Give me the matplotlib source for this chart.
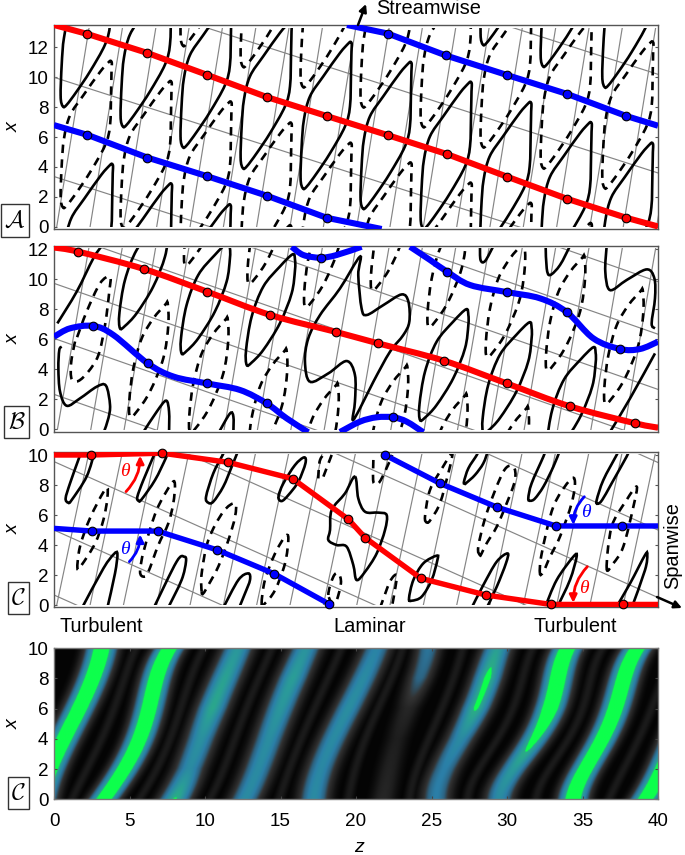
import numpy as np
import matplotlib
matplotlib.use('Agg')
import matplotlib.pyplot as plt
from matplotlib.path import Path
from matplotlib.patches import PathPatch, Rectangle, FancyArrowPatch
from matplotlib.colors import LinearSegmentedColormap

plt.rcParams['font.family'] = ['Liberation Sans', 'DejaVu Sans']
plt.rcParams['mathtext.fontset'] = 'cm'

W, H = 685, 855
TICK_COLOR = '#555555'
GRID_COLOR = '#858585'

# --- panel A ---
a_red_z = [0, 2.21, 6.18, 10.15, 14.09, 18.06, 22.1, 26.03, 29.98, 33.95, 37.9, 40]
a_red_x = [13.5, 12.9, 11.63, 10.16, 8.68, 7.41, 6.13, 4.86, 3.36, 1.88, 0.6, 0.02]
a_blue1_z = [0, 2.21, 6.18, 10.15, 14.09, 18.06, 21.7]
a_blue1_x = [6.8, 6.15, 4.63, 3.38, 2.08, 0.6, -0.15]
a_blue2_z = [19.4, 22.1, 25.96, 29.98, 34.0, 37.9, 40]
a_blue2_x = [13.5, 12.93, 11.46, 10.16, 8.88, 7.41, 6.76]
a_red_marks = list(range(1, 11))
a_blue1_marks = [1, 2, 3, 4, 5]
a_blue2_marks = [1, 2, 3, 4, 5]
a_span_x0 = [3.36, 10.0, 16.6, 23.2, 29.8, 36.4]
a_span_slope = -0.325
a_stream_z0 = [0.18, 2.39, 4.6, 6.8, 9.01, 11.22, 13.42, 15.63, 17.84, 20.05, 22.25, 24.46,
               26.67, 28.87, 31.08, 33.29, 35.49, 37.7, 39.91]
a_stream_slope = 0.161
# lobe outline relative to its lowest point
a_lobe_dz = [-0.07, 0, 0.15, 0.55, 1.43, 2.54, 3.09, 3.24, 3.32, 3.3, 3.27, 3.2, 2.87, 1.88, 0.99, 0.33, 0.08]
a_lobe_dx = [0.67, 2.8, 4.59, 6.15, 7.49, 9.06, 9.69, 9.8, 9.65, 9.17, 7.72, 5.48, 4.14, 2.35, 1.0, 0.11, 0]
a_solid_z = [0.51, 4.48, 8.45, 12.43, 16.4, 20.37, 24.35, 28.3, 32.3, 36.36,
             28.32, 32.3, 36.38, 0.59, 4.5, 8.4, 12.4]
a_solid_x = [8.05, 6.71, 5.33, 3.92, 2.57, 1.23, -0.1, -1.45, -2.8, -4.18,
             12.19, 10.74, 9.35, -5.59, -6.9, -8.3, -9.7]
a_dash_z = [8.45, 12.43, 16.4, 20.37, 24.35, 28.32, 32.3, 36.38, 40.3,
            0.51, 4.48, 8.45, 12.43, 16.4, 20.37, 24.35, 28.32, 32.3]
a_dash_x = [12.13, 10.72, 9.37, 8.03, 6.7, 5.35, 3.94, 2.6, 1.2,
            1.3, -0.05, -1.42, -2.83, -4.18, -5.5, -6.85, -8.2, -9.55]

# --- panel B ---
b_red_z = [0, 1.61, 5.94, 10.13, 14.33, 18.68, 21.46, 25.8, 29.98, 34.17, 38.5, 40]
b_red_x = [12.1, 11.82, 10.67, 9.16, 7.6, 6.47, 5.71, 4.56, 3.04, 1.51, 0.38, 0.09]
b_blue1_z = [0, 1.06, 2.6, 3.93, 6.2, 7.93, 10.13, 12.32, 14.08, 15.41, 16.84]
b_blue1_x = [6.15, 6.71, 6.87, 6.27, 4.38, 3.49, 3.04, 2.6, 1.71, 0.71, -0.22]
b_blue2_z = [18.94, 20.26, 21.37, 22.47, 23.36, 24.46]
b_blue2_x = [-0.2, 0.49, 0.78, 0.78, 0.49, -0.22]
b_blue3_z = [15.74, 16.51, 17.66, 18.72, 20.37]
b_blue3_x = [12.15, 11.6, 11.42, 11.6, 12.15]
b_blue4_z = [23.58, 24.9, 26.03, 27.55, 29.98, 32.19, 33.95, 35.72, 37.5, 38.8, 40]
b_blue4_x = [12.15, 11.27, 10.49, 9.6, 9.13, 8.71, 7.8, 6.04, 5.33, 5.33, 5.82]
b_red_marks = [1, 2, 3, 4, 5, 6, 7, 8, 9, 10]
b_blue1_marks = [2, 4, 6, 8]
b_blue2_marks = [3]
b_blue3_marks = [2]
b_blue4_marks = [2, 4, 6, 8]
b_span_x0 = [2.31, 6.04, 9.71, 13.2, 16.72, 20.4, 23.9]
b_span_slope = -0.352
b_stream_z0 = [0.22, 2.43, 4.64, 6.84, 9.05, 11.26, 13.47, 15.68, 17.89, 20.09, 22.3, 24.51,
               26.72, 28.92, 31.13, 33.34, 35.55, 37.76, 39.96]
b_stream_slope = 0.172
b_lobe_dz = [-0.04, 0.33, 1.1, 2.2, 3.05, 3.2, 3.2, 2.98, 2.2, 1.1, 0.33, 0]
b_lobe_dx = [1.0, 3.22, 5.22, 6.56, 7.38, 7.0, 6.33, 4.78, 2.78, 1.0, 0.16, 0]
b_solid_z = [4.37, 8.45, 12.76, 24.24, 28.43, 32.67]
b_solid_x = [6.71, 5.04, 4.27, 0.6, -0.27, -1.93]
b_dlobe_dz = [-0.04, 0.22, 0.77, 1.55, 2.32, 2.5, 2.54, 2.21, 1.32, 0.44, 0]
b_dlobe_dx = [1.1, 3.2, 5.2, 6.55, 7.45, 7.55, 6.1, 3.9, 1.67, 0.33, 0]
b_dash_z = [5.03, 9.0, 12.9, 16.3, 20.9, 24.83, 28.9, 36.49, 32.63, 28.65, 24.79, 21.04, 16.62, 12.87, 8.67]
b_dash_x = [0.82, -0.2, -2.3, -4.6, -3.4, -5.3, -6.15, 1.7, 3.93, 4.82, 6.82, 9.26, 8.15, 9.71, 10.93]
b_open_curves = [
    ([0.51, 0.35, 0.29, 0.4, 0.84, 1.72, 2.83, 3.44, 3.71, 3.6, 3.31],
     [5.49, 5.26, 4.04, 2.49, 1.55, 2.04, 2.82, 2.89, 1.6, 0.71, -0.18]),
    ([0.22, 1.5, 2.6, 3.16], [7.04, 9.15, 11.37, 12.2]),
    ([5.92, 6.8, 7.42, 7.62, 7.62], [-0.2, 1.15, 1.89, 1.15, -0.2]),
    ([10.93, 11.66, 11.88, 11.88], [-0.2, 1.04, 0.82, -0.2]),
    ([28.21, 28.25, 28.55, 29.1], [12.2, 11.26, 11.2, 12.2]),
    ([32.56, 32.63, 32.85, 33.51, 34.17], [12.2, 10.71, 10.26, 10.93, 12.2]),
    ([36.6, 36.51, 36.82, 37.92, 39.25, 39.76, 39.8, 39.58, 39.8],
     [12.2, 10.49, 9.26, 9.93, 10.64, 10.04, 8.71, 7.04, 6.71]),
    ([36.82, 38.15, 39.8], [-0.2, 2.04, 5.04]),
]
b_loop_z = [16.95, 16.62, 16.84, 17.62, 18.94, 20.26, 20.15, 20.37, 20.71, 21.81, 23.02, 23.47, 23.53,
            23.13, 22.25, 21.15, 20.26, 19.78, 19.93, 19.93, 19.38, 18.17]
b_loop_x = [3.15, 4.49, 6.04, 7.6, 9.37, 11.49, 10.26, 8.04, 7.6, 8.26, 8.97, 8.49, 7.15,
            6.26, 5.15, 3.15, 1.37, 0.6, 1.82, 3.6, 4.53, 3.71]
b_dloop_z = [1.39, 1.13, 1.17, 1.61, 2.27, 2.94, 3.38, 3.66, 3.71, 3.05, 2.16, 1.5]
b_dloop_x = [5.82, 4.37, 3.33, 3.2, 3.82, 4.93, 6.93, 9.15, 10.15, 9.71, 7.82, 6.04]

# --- panel C ---
c_red_z = [0, 2.43, 7.17, 11.55, 15.81, 19.5, 20.6, 24.3, 28.59, 32.91, 37.66, 40]
c_red_x = [10, 10, 10.12, 9.51, 8.42, 5.71, 4.49, 1.78, 0.67, 0.04, 0.04, 0.04]
c_blue1_z = [0, 2.54, 6.87, 10.82, 14.57, 18.21]
c_blue1_x = [5.11, 4.93, 4.93, 3.67, 2.09, 0.07]
c_blue2_z = [21.92, 25.56, 29.32, 33.24, 37.59, 40]
c_blue2_x = [10, 8.11, 6.53, 5.27, 5.27, 5.27]
c_span_x0 = [0.67, 5.0, 9.56, 14.05, 18.5, 23.0, 27.5]
c_span_slope = -0.45
c_stream_z0 = [0.18, 2.39, 4.6, 6.8, 9.01, 11.22, 13.42, 15.63, 17.84, 20.05, 22.25, 24.46,
               26.67, 28.87, 31.08, 33.29, 35.49, 37.7]
c_stream_slope = 0.21
c_solid_open = [
    ([1.83, 1.61, 1.06, 0.77, 0.95, 1.17, 2.16, 2.72], [10.3, 9.67, 8.11, 7.11, 6.82, 7.0, 8.56, 10.3]),
    ([6.75, 6.58, 5.92, 5.52, 5.6, 5.8, 6.69, 7.4, 7.6], [10.3, 9.89, 8.33, 7.22, 6.95, 7.04, 8.33, 9.78, 10.3]),
    ([11.3, 11.17, 10.55, 10.07, 10.22, 10.55, 11.21, 11.77, 12.2], [10.3, 10, 8.78, 7.22, 6.82, 6.89, 7.89, 9.22, 10.3]),
    ([28.1, 28.0, 27.44, 27.15, 27.22, 27.33, 27.88, 28.43, 28.75], [10.3, 10, 9.11, 8.22, 8.08, 8.16, 8.67, 9.44, 10.3]),
    ([32.55, 32.41, 31.63, 31.41, 31.55, 31.85, 32.41, 33.07, 33.5], [10.3, 9.89, 8.11, 7.11, 6.95, 7.1, 7.89, 9.22, 10.3]),
    ([37.4, 37.26, 36.38, 35.94, 36.0, 36.3, 36.93, 37.92, 38.1], [10.3, 10, 8.33, 7.0, 6.75, 7.0, 8.11, 9.89, 10.3]),
    ([1.85, 3.27, 3.97, 4.2, 4.04, 3.53], [-0.2, 2.44, 3.4, 3.4, 2.11, -0.2]),
    ([6.6, 8.12, 8.63, 8.74, 8.45, 7.55], [-0.2, 2.89, 3.22, 2.89, 1.67, -0.2]),
    ([11.2, 12.21, 12.87, 12.98, 12.65, 12.25], [-0.2, 1.67, 2.11, 1.67, 0.78, -0.2]),
    ([27.65, 28.43, 29.32, 30.04, 29.93, 29.32, 28.65], [-0.2, 1.33, 2.89, 3.44, 2.78, 1.22, -0.2]),
    ([32.5, 33.29, 34.39, 34.61, 34.17, 33.3], [-0.2, 1.67, 3.22, 3.22, 1.67, -0.2]),
    ([37.2, 38.15, 39.14, 39.29, 39.14, 38.25], [-0.2, 1.44, 3.33, 3.33, 2.33, -0.2]),
]
c_solid_closed = [
    ([14.86, 15.19, 15.96, 16.56, 16.65, 16.18, 15.52, 15.08], [7.22, 8.11, 9.33, 9.84, 9.44, 8.22, 7.33, 6.93]),
    ([19.93, 19.27, 18.39, 18.28, 18.17, 18.72, 19.38, 19.82, 20.04, 20.6, 21.37, 21.92, 22.03, 21.48, 20.6, 20.15],
     [8.56, 7.44, 6.33, 5, 4.33, 4.0, 3.89, 2.67, 1.67, 2.22, 3.44, 5, 6, 6.16, 6.22, 7.11]),
    ([23.51, 23.8, 24.46, 25.34, 25.39, 25.01, 24.35, 23.69], [0.44, 1.67, 2.78, 3.29, 3, 1.67, 0.56, 0.29]),
]
c_dash_closed = [
    ([1.55, 1.72, 2.38, 3.44, 3.53, 3.27, 2.72, 1.83], [2.44, 3.89, 5.78, 7.78, 7.11, 5.67, 4.11, 2.67]),
    ([5.96, 5.7, 5.96, 6.8, 7.79, 8.01, 7.9, 7.57, 6.91, 6.25], [1.89, 2.22, 3.67, 6.33, 8.11, 8, 6.78, 5.44, 4, 2.22]),
    ([9.78, 9.78, 10.22, 11.21, 11.99, 11.99, 11.55, 10.88, 10.22, 9.89], [0.89, 2.11, 4.33, 6.22, 6.78, 5.89, 4.33, 2.56, 1.33, 0.78]),
    ([13.75, 13.97, 14.64, 15.3, 15.52, 15.3, 14.64, 13.97], [0.11, 1.67, 3.44, 4.56, 4.44, 2.78, 1, 0.11]),
    ([18.17, 18.5, 18.83, 19.0, 18.61], [0.67, 1.89, 2.11, 1.44, 0.11]),
    ([24.7, 24.57, 24.9, 25.75, 26.33, 26.35, 26.11, 25.56, 24.95], [5.5, 5.9, 7.67, 9.2, 10.1, 9.8, 8.78, 6.78, 5.7]),
    ([28.21, 28.1, 28.65, 29.76, 30.42, 30.53, 29.98, 29.32, 28.65, 28.32], [3.33, 3.89, 6.11, 8.89, 9.22, 8.33, 6.78, 5.22, 4.11, 3.44]),
    ([32.18, 32.3, 33.07, 34.17, 34.5, 34.28, 33.51, 32.85, 32.41], [2.11, 3.44, 6.56, 8.33, 8.22, 6.78, 4.56, 3.22, 2.22]),
    ([36.6, 36.93, 37.92, 38.59, 38.37, 37.7, 37.04], [2.44, 5.22, 7, 7.89, 6.56, 3.89, 2.78]),
]
c_dash_open = [
    ([17.5, 17.62, 18.13], [8.44, 9.67, 10.3]),
    ([17.84, 18.5], [8.56, 10.3]),
    ([21.15, 21.15, 21.48, 21.92, 22.4], [9.67, 8.22, 8.11, 8.89, 10.0]),
    ([21.59, 22.25, 22.69, 22.58, 22.36], [-0.2, 1.56, 2, 1, -0.2]),
]

# --- heat map: stripe centres (z) read at these x rows, and strength along each stripe ---
heat_x = [0, 2, 4, 6, 8, 10]
heat_centres = [
    [-0.9, -0.25, 0.62, 1.72, 2.54, 3.16],
    [3.31, 4.64, 5.7, 6.25, 6.8, 7.68],
    [8.0, 9.0, 9.67, 10.55, 11.3, 12.2],
    [12.65, 13.5, 14.3, 14.96, 15.85, 16.7],
    [17.2, 17.7, 18.5, 19.55, 20.5, 21.4],
    [21.8, 22.25, 22.7, 23.5, 24.2, 24.8],
    [25.3, 25.9, 26.9, 28.0, 28.7, 29.4],
    [29.5, 30.4, 32.0, 32.74, 33.45, 34.05],
    [34.4, 35.2, 36.4, 37.15, 37.8, 38.7],
    [39.2, 40.3, 41.2, 42.0, 43.0, 44.0],
]
heat_peaks = [
    [1, 1, 1, 1, 1, 1],
    [1, 1, 1, 1, 1, 1],
    [0.71, 0.5, 0.54, 0.67, 0.64, 0.58],
    [0.5, 0.5, 0.52, 0.58, 0.62, 0.55],
    [0.5, 0.48, 0.5, 0.52, 0.5, 0.45],
    [0.14, 0.12, 0.1, 0.14, 0.32, 0.38],
    [0.42, 0.42, 0.5, 0.72, 0.74, 0.62],
    [0.5, 0.6, 0.78, 1, 1, 1],
    [1, 1, 1, 1, 1, 1],
    [1, 1, 1, 1, 1, 1],
]
heat_widths = [0.88, 0.85, 0.95, 0.95, 0.92, 0.8, 0.9, 0.88, 0.85, 0.85]

# --- helpers ---
def add_axes(left, top, right, bottom):
    return fig.add_axes([left / W, 1 - bottom / H, (right - left) / W, (bottom - top) / H])

def smooth_path(z, x, closed=False):
    pts = np.column_stack([z, x])
    n = len(pts)
    verts = [pts[0]]
    codes = [Path.MOVETO]
    for i in range(n if closed else n - 1):
        if closed:
            p0, p1, p2, p3 = pts[(i - 1) % n], pts[i], pts[(i + 1) % n], pts[(i + 2) % n]
        else:
            p0, p1, p2, p3 = pts[max(i - 1, 0)], pts[i], pts[i + 1], pts[min(i + 2, n - 1)]
        verts += [p1 + (p2 - p0) / 6, p2 - (p3 - p1) / 6, p2]
        codes += [Path.CURVE4] * 3
    return Path(verts, codes)

def draw_curve(ax, z, x, closed=False, dashed=False, clip=None):
    style = (0, (3.2, 2.4)) if dashed else '-'
    patch = PathPatch(smooth_path(z, x, closed), fill=False, ec='black', lw=1.9, ls=style,
                      capstyle='butt', zorder=3)
    ax.add_patch(patch)
    if clip is not None:
        patch.set_clip_path(clip)

def draw_grid(ax, span_x0, span_slope, stream_z0, stream_slope, x_lo, x_hi, clip):
    for x0 in span_x0:
        line, = ax.plot([0, 40], [x0, x0 + span_slope * 40], color=GRID_COLOR, lw=0.85, zorder=2)
        line.set_clip_path(clip)
    for z0 in stream_z0:
        line, = ax.plot([z0, z0 + stream_slope * (x_hi - x_lo)], [x_lo, x_hi], color=GRID_COLOR, lw=0.85, zorder=2)
        line.set_clip_path(clip)

def draw_front(ax, z, x, color, marks=None, smooth=False, lw=3.6):
    z = np.array(z)
    x = np.array(x)
    if smooth:
        ax.add_patch(PathPatch(smooth_path(z, x), fill=False, ec=color, lw=lw, capstyle='butt', zorder=4))
    else:
        ax.plot(z, x, color=color, lw=lw, solid_capstyle='butt', solid_joinstyle='round', zorder=4)
    idx = range(len(z)) if marks is None else marks
    m, = ax.plot(z[list(idx)], x[list(idx)], 'o', ms=6.2, mfc=color, mec='black', mew=0.8, zorder=5)
    m.set_clip_on(False)

def x_label(ax):
    ax.set_ylabel('x', style='italic', fontsize=14, va='center')
    ax.yaxis.set_label_coords((13 - 54) / 604, 0.5)

def style_axes(ax, yticks, ylim):
    ax.set_xlim(0, 40)
    ax.set_ylim(*ylim)
    ax.set_yticks(yticks)
    ax.set_xticks([])
    ax.tick_params(axis='y', direction='in', length=2.5, width=0.8, color=TICK_COLOR,
                   left=True, right=True, labelsize=13.6, pad=4)
    for s in ax.spines.values():
        s.set_color(TICK_COLOR)
        s.set_linewidth(1.0)
    x_label(ax)

def tag(left, top, right, bottom, text):
    fig.add_artist(Rectangle((left / W, 1 - bottom / H), (right - left) / W, (bottom - top) / H,
                             transform=fig.transFigure, fc='white', ec='#333333', lw=1.0, zorder=6))
    fig.text((left + right) / 2 / W, 1 - (top + bottom) / 2 / H, text, ha='center', va='center',
             fontsize=17, zorder=7)

def fig_arrow(p0, p1):
    fig.add_artist(FancyArrowPatch((p0[0] / W, 1 - p0[1] / H), (p1[0] / W, 1 - p1[1] / H),
                                   transform=fig.transFigure, arrowstyle='-|>', mutation_scale=11,
                                   lw=1.8, color='black', shrinkA=0, shrinkB=0, zorder=8))

def theta_arrow(ax, p0, p1, color, rad, tz, tx):
    ax.add_patch(FancyArrowPatch(p0, p1, arrowstyle='-|>', mutation_scale=11, lw=2.0, color=color,
                                 connectionstyle=f'arc3,rad={rad}', shrinkA=0, shrinkB=0, zorder=6))
    ax.text(tz, tx, '\u03b8', color=color, family='Liberation Serif', style='italic',
            fontsize=14, ha='center', va='center', zorder=6)

fig = plt.figure(figsize=(W / 100, H / 100), dpi=100)

# --- panel A ---
ax = add_axes(54, 25, 658, 229)
style_axes(ax, [0, 2, 4, 6, 8, 10, 12], (-0.15, 13.5))
clip = Rectangle((0, 0), 40, 13.27, transform=ax.transData)
draw_grid(ax, a_span_x0, a_span_slope, a_stream_z0, a_stream_slope, 0, 13.27, clip)
for z0, x0 in zip(a_solid_z, a_solid_x):
    draw_curve(ax, np.array(a_lobe_dz) + z0, np.array(a_lobe_dx) + x0, closed=True, clip=clip)
for z0, x0 in zip(a_dash_z, a_dash_x):
    draw_curve(ax, np.array(a_lobe_dz) + z0, np.array(a_lobe_dx) + x0, closed=True, dashed=True, clip=clip)
draw_front(ax, a_red_z, a_red_x, '#ff0000', a_red_marks, lw=4.4)
draw_front(ax, a_blue1_z, a_blue1_x, '#0000ff', a_blue1_marks, lw=4.4)
draw_front(ax, a_blue2_z, a_blue2_x, '#0000ff', a_blue2_marks, lw=4.4)

# --- panel B ---
ax = add_axes(54, 246, 658, 431.7)
style_axes(ax, [0, 2, 4, 6, 8, 10, 12], (-0.18, 12.2))
clip = Rectangle((0, -0.07), 40, 12.12, transform=ax.transData)
draw_grid(ax, b_span_x0, b_span_slope, b_stream_z0, b_stream_slope, -0.07, 12.05, clip)
for z0, x0 in zip(b_solid_z, b_solid_x):
    draw_curve(ax, np.array(b_lobe_dz) + z0, np.array(b_lobe_dx) + x0, closed=True, clip=clip)
for z0, x0 in zip(b_dash_z, b_dash_x):
    draw_curve(ax, np.array(b_dlobe_dz) + z0, np.array(b_dlobe_dx) + x0, closed=True, dashed=True, clip=clip)
for z, x in b_open_curves:
    draw_curve(ax, z, x, clip=clip)
draw_curve(ax, b_loop_z, b_loop_x, closed=True, clip=clip)
draw_curve(ax, b_dloop_z, b_dloop_x, closed=True, dashed=True, clip=clip)
draw_front(ax, b_red_z, b_red_x, '#ff0000', b_red_marks, smooth=True, lw=4.4)
draw_front(ax, b_blue1_z, b_blue1_x, '#0000ff', b_blue1_marks, smooth=True, lw=4.4)
draw_front(ax, b_blue2_z, b_blue2_x, '#0000ff', b_blue2_marks, smooth=True, lw=4.4)
draw_front(ax, b_blue3_z, b_blue3_x, '#0000ff', b_blue3_marks, smooth=True, lw=4.4)
draw_front(ax, b_blue4_z, b_blue4_x, '#0000ff', b_blue4_marks, smooth=True, lw=4.4)

# --- panel C ---
ax = add_axes(54, 451.7, 658, 607)
style_axes(ax, [0, 2, 4, 6, 8, 10], (-0.13, 10.22))
clip = Rectangle((0, 0.0), 40, 10.06, transform=ax.transData)
draw_grid(ax, c_span_x0, c_span_slope, c_stream_z0, c_stream_slope, 0.0, 10.06, clip)
for z, x in c_solid_open:
    draw_curve(ax, z, x, clip=clip)
for z, x in c_solid_closed:
    draw_curve(ax, z, x, closed=True, clip=clip)
for z, x in c_dash_closed:
    draw_curve(ax, z, x, closed=True, dashed=True, clip=clip)
for z, x in c_dash_open:
    draw_curve(ax, z, x, dashed=True, clip=clip)
draw_front(ax, c_red_z, c_red_x, '#ff0000', list(range(1, 11)), lw=3.9)
draw_front(ax, c_blue1_z, c_blue1_x, '#0000ff', lw=3.9, marks=[1, 2, 3, 4, 5])
draw_front(ax, c_blue2_z, c_blue2_x, '#0000ff', lw=3.9, marks=[0, 1, 2, 3, 4])
theta_arrow(ax, (4.77, 7.56), (5.7, 9.95), '#ff0000', 0.2, 4.7, 8.9)
theta_arrow(ax, (4.99, 2.89), (5.7, 4.7), '#0000ff', 0.2, 4.7, 3.7)
theta_arrow(ax, (35.12, 7.22), (34.39, 5.35), '#0000ff', 0.2, 35.2, 6.2)
theta_arrow(ax, (35.32, 2.56), (34.39, 0.15), '#ff0000', 0.2, 35.1, 1.1)

# --- heat map ---
ax = add_axes(54, 648.3, 658, 799.3)
rows = np.linspace(0, 10, 301)
cols = np.linspace(0, 40, 1201)
field = np.full((rows.size, cols.size), 0.015)
# smooth centre lines through the values read at the six rows
centres = np.array([np.polyval(np.polyfit(heat_x, c, 4), rows) for c in heat_centres])
peaks = np.array([np.interp(rows, heat_x, p) for p in heat_peaks])
for i, w in enumerate(heat_widths):
    d = (cols[None, :] - centres[i][:, None]) / w
    field = np.maximum(field, peaks[i][:, None] * np.exp(-d ** 2))
# thin dark grey bands half way between the bright stripes
for i in range(len(heat_widths) - 1):
    mid = (centres[i] + centres[i + 1]) / 2
    d = (cols[None, :] - mid[:, None]) / 0.38
    field = np.maximum(field, 0.09 * np.exp(-d ** 2))
cmap = LinearSegmentedColormap.from_list('stripes', [
    (0.0, '#000000'), (0.1, '#1e1e1e'), (0.2, '#333333'), (0.3, '#2d6280'),
    (0.42, '#2b7fa8'), (0.6, '#2a9a9a'), (0.699, '#2aac86'), (0.7, '#0dff4c'), (1.0, '#0dff4c')], N=1024)
ax.imshow(field, origin='lower', extent=(0, 40, 0, 10), aspect='auto', cmap=cmap, vmin=0, vmax=1,
          interpolation='bilinear')
ax.set_xlim(0, 40)
ax.set_ylim(0, 10)
ax.set_xticks([0, 5, 10, 15, 20, 25, 30, 35, 40])
ax.set_yticks([0, 2, 4, 6, 8, 10])
ax.tick_params(axis='both', direction='in', length=2.5, width=0.8, color='#444444',
               top=True, right=True, labelsize=13.6, pad=10)
ax.tick_params(axis='y', pad=4)
for s in ax.spines.values():
    s.set_color('#777777')
    s.set_linewidth(1.0)
x_label(ax)
ax.set_xlabel('z', style='italic', fontsize=14, va='center')
ax.xaxis.set_label_coords((359 - 54) / 604, (799.3 - 847) / 151)

# --- labels, tags and arrows ---
tag(1, 204, 29, 237, r'$\mathcal{A}$')
tag(4, 406, 29, 438, r'$\mathcal{B}$')
tag(8, 582, 29, 614, r'$\mathcal{C}$')
tag(8, 777, 29, 809, r'$\mathcal{C}$')
for px, label in [(60, 'Turbulent'), (333, 'Laminar'), (534, 'Turbulent')]:
    fig.text(px / W, 1 - 627 / H, label, ha='left', va='center', fontsize=14.4)
fig.text(376 / W, 1 - 8 / H, 'Streamwise', ha='left', va='center', fontsize=14.4)
fig.text(673 / W, 1 - 546 / H, 'Spanwise', rotation=90, ha='center', va='center', fontsize=14.4)
fig_arrow((358, 25), (366, 4))
fig_arrow((657, 597), (682, 608))

fig.savefig('out.png', dpi=100)
